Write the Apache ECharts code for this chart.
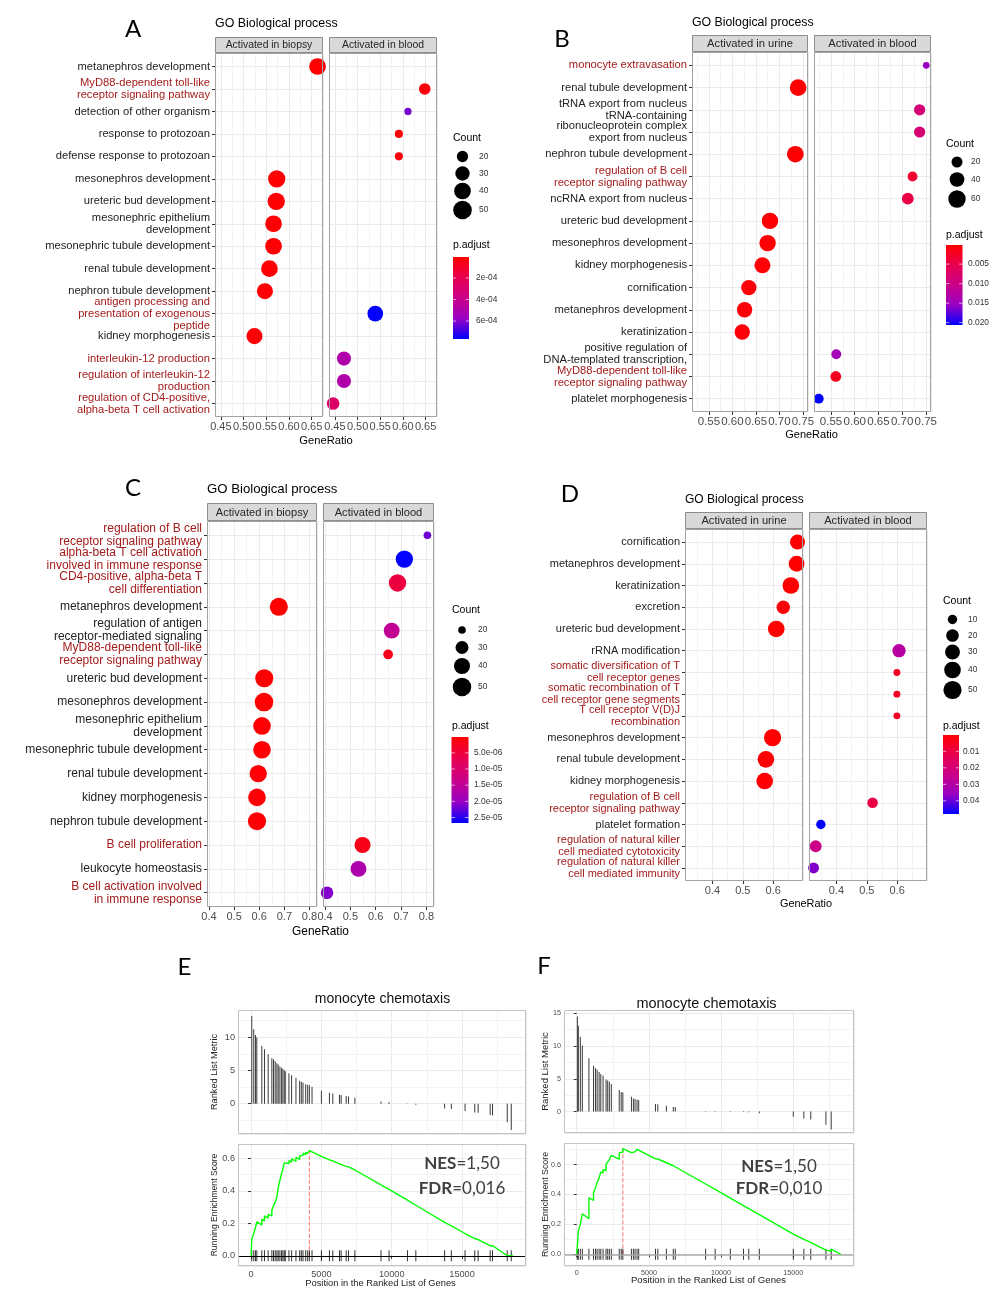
<!DOCTYPE html>
<html><head><meta charset="utf-8">
<script src="https://cdn.jsdelivr.net/npm/echarts@6/dist/echarts.min.js"></script>
<style>html,body{margin:0;padding:0;background:#fff}#c{width:1000px;height:1296px}</style>
</head><body><div id="c"></div>
<script>
// ===================== DATA =====================
// ---- Panel A ----
const catA = ['metanephros development','MyD88-dependent toll-like\nreceptor signaling pathway','detection of other organism','response to protozoan','defense response to protozoan','mesonephros development','ureteric bud development','mesonephric epithelium\ndevelopment','mesonephric tubule development','renal tubule development','nephron tubule development','antigen processing and\npresentation of exogenous\npeptide','kidney morphogenesis','interleukin-12 production','regulation of interleukin-12\nproduction','regulation of CD4-positive,\nalpha-beta T cell activation'];
const immuneA = [catA[1], catA[11], catA[13], catA[14], catA[15]];
const ratioA_biopsy = [0.663, null, null, null, null, 0.573, 0.572, 0.566, 0.566, 0.557, 0.547, null, 0.524, null, null, null];
const countA_biopsy = [40, null, null, null, null, 43, 43, 40, 40, 40, 37, null, 37, null, null, null];
const padjA_biopsy = [1.0e-5, null, null, null, null, 1.1e-5, 1.1e-5, 1.2e-5, 1.2e-5, 1.3e-5, 1.5e-5, null, 2.0e-5, null, null, null];
const ratioA_blood = [null, 0.648, 0.611, 0.591, 0.591, null, null, null, null, null, null, 0.539, null, 0.470, 0.470, 0.446];
const countA_blood = [null, 21, 13, 14, 14, null, null, null, null, null, null, 35, null, 29, 29, 24];
const padjA_blood = [null, 3.0e-5, 6.2e-4, 2.5e-5, 2.5e-5, null, null, null, null, null, null, 7.65e-4, null, 4.9e-4, 4.9e-4, 2.7e-4];
const xRangeA = [0.437, 0.675];
const padjRangeA = [4.7e-6, 7.67e-4];
const padjBreaksA = [2e-4, 4e-4, 6e-4];
const padjLabelsA = ['2e-04', '4e-04', '6e-04'];
const countBreaksA = [20, 30, 40, 50];

// ---- Panel B ----
const catB = ['monocyte extravasation','renal tubule development','tRNA export from nucleus\ntRNA-containing','ribonucleoprotein complex\nexport from nucleus','nephron tubule development','regulation of B cell\nreceptor signaling pathway','ncRNA export from nucleus','ureteric bud development','mesonephros development','kidney morphogenesis','cornification','metanephros development','keratinization','positive regulation of\nDNA-templated transcription,','MyD88-dependent toll-like\nreceptor signaling pathway','platelet morphogenesis'];
const immuneB = [catB[0], catB[5], catB[14]];
const ratioB_urine = [null, 0.740, null, null, 0.734, null, null, 0.680, 0.675, 0.664, 0.635, 0.626, 0.621, null, null, null];
const countB_urine = [null, 54, null, null, 54, null, null, 52, 52, 49, 44, 44, 44, null, null, null];
const padjB_urine = [null, 2e-4, null, null, 2e-4, null, null, 3e-4, 3e-4, 4e-4, 6e-4, 6e-4, 7e-4, null, null, null];
const ratioB_blood = [0.751, null, 0.737, 0.737, null, 0.722, 0.712, null, null, null, null, null, null, 0.561, 0.560, 0.524];
const countB_blood = [9, null, 21, 21, null, 16, 24, null, null, null, null, null, null, 16, 19, 16];
const padjB_blood = [0.0155, null, 0.0085, 0.0085, null, 0.0032, 0.0046, null, null, null, null, null, null, 0.0144, 0.0021, 0.0206];
const xRangeB = [0.514, 0.761];
const padjRangeB = [1e-4, 0.0206];
const padjBreaksB = [0.005, 0.010, 0.015, 0.020];
const padjLabelsB = ['0.005', '0.010', '0.015', '0.020'];
const countBreaksB = [20, 40, 60];

// ---- Panel C ----
const catC = ['regulation of B cell\nreceptor signaling pathway','alpha-beta T cell activation\ninvolved in immune response','CD4-positive, alpha-beta T\ncell differentiation','metanephros development','regulation of antigen\nreceptor-mediated signaling','MyD88-dependent toll-like\nreceptor signaling pathway','ureteric bud development','mesonephros development','mesonephric epithelium\ndevelopment','mesonephric tubule development','renal tubule development','kidney morphogenesis','nephron tubule development','B cell proliferation','leukocyte homeostasis','B cell activation involved\nin immune response'];
const immuneC = [catC[0], catC[1], catC[2], catC[5], catC[13], catC[15]];
const ratioC_biopsy = [null, null, null, 0.678, null, null, 0.620, 0.619, 0.611, 0.611, 0.596, 0.591, 0.591, null, null, null];
const countC_biopsy = [null, null, null, 48, null, null, 48, 50, 46, 46, 45, 46, 48, null, null, null];
const padjC_biopsy = [null, null, null, 2e-7, null, null, 3e-7, 3e-7, 4e-7, 4e-7, 5e-7, 6e-7, 6e-7, null, null, null];
const ratioC_blood = [0.804, 0.713, 0.686, null, 0.663, 0.649, null, null, null, null, null, null, null, 0.548, 0.532, 0.408];
const countC_blood = [20, 45, 45, null, 39, 23, null, null, null, null, null, null, null, 40, 39, 29];
const padjC_blood = [2.2e-5, 2.66e-5, 5.4e-6, null, 1.45e-5, 2.5e-6, null, null, null, null, null, null, null, 2.0e-6, 1.74e-5, 2.1e-5];
const xRangeC = [0.392, 0.83];
const padjRangeC = [1e-7, 2.67e-5];
const padjBreaksC = [5e-6, 1e-5, 1.5e-5, 2e-5, 2.5e-5];
const padjLabelsC = ['5.0e-06', '1.0e-05', '1.5e-05', '2.0e-05', '2.5e-05'];
const countBreaksC = [20, 30, 40, 50];

// ---- Panel D ----
const catD = ['cornification','metanephros development','keratinization','excretion','ureteric bud development','rRNA modification','somatic diversification of T\ncell receptor genes','somatic recombination of T\ncell receptor gene segments','T cell receptor V(D)J\nrecombination','mesonephros development','renal tubule development','kidney morphogenesis','regulation of B cell\nreceptor signaling pathway','platelet formation','regulation of natural killer\ncell mediated cytotoxicity','regulation of natural killer\ncell mediated immunity'];
const immuneD = [catD[6], catD[7], catD[8], catD[12], catD[14], catD[15]];
const ratioD_urine = [0.680, 0.677, 0.658, 0.633, 0.610, null, null, null, null, 0.598, 0.576, 0.572, null, null, null, null];
const countD_urine = [31, 35, 40, 23, 40, null, null, null, null, 44, 40, 40, null, null, null, null];
const padjD_urine = [3e-4, 3e-4, 2e-4, 8e-4, 3e-4, null, null, null, null, 4e-4, 5e-4, 5e-4, null, null, null, null];
const ratioD_blood = [null, null, null, null, null, 0.606, 0.599, 0.599, 0.599, null, null, null, 0.519, 0.349, 0.332, 0.325];
const countD_blood = [null, null, null, null, null, 23, 6, 6, 6, null, null, null, 13, 10, 17, 14];
const padjD_blood = [null, null, null, null, null, 0.029, 0.006, 0.006, 0.006, null, null, null, 0.0106, 0.048, 0.024, 0.038];
const xRangeD = [0.31, 0.698];
const padjRangeD = [1e-4, 0.048];
const padjBreaksD = [0.01, 0.02, 0.03, 0.04];
const padjLabelsD = ['0.01', '0.02', '0.03', '0.04'];
const countBreaksD = [10, 20, 30, 40, 50];

// ---- Panel E (GSEA) ----
const hitsE = [48, 190, 310, 405, 762, 952, 1214, 1476, 1595, 1714, 1833, 1929, 2048, 2167, 2262, 2357, 2429, 2690, 2881, 3190, 3452, 3571, 3690, 3881, 4024, 4143, 4333, 5000, 5571, 5810, 6286, 6405, 6762, 6929, 7381, 9238, 9810, 11119, 11714, 13762, 14238, 15214, 15905, 16143, 17000, 17167, 18214, 18500];
const metricE = [13.2, 11.2, 10.35, 9.95, 8.7, 8.2, 7.45, 6.85, 6.7, 6.4, 6.1, 5.9, 5.6, 5.4, 5.25, 5.05, 4.9, 4.6, 4.3, 3.9, 3.45, 3.3, 3.2, 2.95, 2.85, 2.8, 2.55, 1.95, 1.65, 1.55, 1.35, 1.3, 1.15, 1.1, 0.9, 0.35, 0.25, -0.05, -0.15, -0.7, -0.8, -1.1, -1.3, -1.35, -1.7, -1.75, -2.8, -3.95];
const esE = [[0,0],[48,0],[48,0.102],[190,0.097],[190,0.137],[310,0.132],[310,0.172],[405,0.168],[405,0.208],[762,0.19],[762,0.224],[952,0.215],[952,0.245],[1214,0.232],[1214,0.255],[1476,0.245],[1476,0.28],[1595,0.275],[1595,0.31],[1714,0.305],[1714,0.33],[1833,0.325],[1833,0.36],[1929,0.356],[1929,0.42],[2048,0.415],[2048,0.465],[2167,0.46],[2167,0.505],[2262,0.50],[2262,0.535],[2357,0.53],[2357,0.572],[2429,0.568],[2429,0.58],[2690,0.568],[2690,0.585],[2881,0.576],[2881,0.596],[3190,0.582],[3190,0.606],[3452,0.594],[3452,0.614],[3571,0.608],[3571,0.624],[3690,0.618],[3690,0.632],[3881,0.622],[3881,0.636],[4024,0.63],[4024,0.64],[4143,0.635],[4143,0.648],[4333,0.640],[4333,0.644],[5000,0.612],[5000,0.618],[5571,0.590],[5571,0.596],[5810,0.584],[5810,0.589],[6286,0.565],[6286,0.57],[6405,0.564],[6405,0.568],[6762,0.55],[6762,0.555],[6929,0.547],[6929,0.551],[7381,0.528],[7381,0.532],[9238,0.436],[9238,0.438],[9810,0.409],[9810,0.41],[11119,0.342],[11714,0.311],[13762,0.206],[13762,0.209],[14238,0.184],[14238,0.188],[15214,0.137],[15214,0.142],[15905,0.106],[15905,0.112],[16143,0.1],[16143,0.106],[17000,0.062],[17000,0.07],[17167,0.062],[17167,0.071],[18214,0.0],[18214,0.012],[18500,0.0],[18500,0.006],[18617,0]];
const peakE = [4143, 0.648];
const statsE = ['1,50', '0,016'];

// ---- Panel F (GSEA) ----
const hitsF = [46, 114, 251, 388, 845, 1164, 1301, 1415, 1552, 1667, 1826, 2032, 2146, 2260, 2397, 2945, 3082, 3196, 3790, 3927, 4041, 4178, 4292, 5456, 5616, 6210, 6689, 6826, 8926, 9589, 10639, 11552, 11917, 12648, 15000, 15730, 16209, 17259, 17625];
const metricF = [14.5, 13.1, 11.4, 10.1, 8.15, 7.0, 6.65, 6.4, 6.05, 5.75, 5.5, 4.9, 4.75, 4.55, 4.2, 3.3, 3.0, 2.9, 2.25, 2.0, 1.9, 1.8, 1.75, 1.15, 1.1, 0.9, 0.7, 0.7, 0.1, 0.1, -0.05, -0.05, -0.1, -0.25, -0.8, -1.05, -1.2, -2.0, -2.75];
const esF = [[0,0],[46,0],[46,0.056],[114,0.052],[114,0.156],[251,0.15],[251,0.2],[388,0.194],[388,0.271],[845,0.238],[845,0.378],[1164,0.36],[1164,0.411],[1301,0.405],[1301,0.444],[1415,0.44],[1415,0.478],[1552,0.472],[1552,0.511],[1667,0.506],[1667,0.551],[1826,0.543],[1826,0.567],[2032,0.558],[2032,0.6],[2146,0.595],[2146,0.618],[2260,0.613],[2260,0.633],[2397,0.627],[2397,0.662],[2945,0.636],[2945,0.678],[3082,0.672],[3082,0.689],[3196,0.684],[3196,0.707],[3790,0.68],[3790,0.686],[3927,0.68],[3927,0.69],[4041,0.685],[4041,0.695],[4178,0.69],[4178,0.702],[4292,0.697],[4292,0.700],[5456,0.638],[5456,0.645],[5616,0.637],[5616,0.642],[6210,0.612],[6210,0.617],[6689,0.592],[6689,0.598],[6826,0.59],[6826,0.594],[8926,0.47],[8926,0.471],[9589,0.434],[9589,0.435],[10639,0.376],[11552,0.325],[11917,0.305],[11917,0.306],[12648,0.265],[12648,0.268],[15000,0.135],[15000,0.14],[15730,0.1],[15730,0.106],[16209,0.08],[16209,0.086],[17259,0.028],[17259,0.04],[17625,0.02],[17625,0.035],[18300,0]];
const peakF = [3196, 0.707];
const statsF = ['1,50', '0,010'];

// ===================== STYLE / LAYOUT =====================
const FONT = '"Liberation Sans", Arial, Helvetica, sans-serif';
const LFONT = 'Lato, "Open Sans", sans-serif';
const RED_LABEL = '#a31b1b';
const DARK = '#1f1f1f';
const TICKTXT = '#4d4d4d';
const GMAJ = '#ebebeb';
const GMIN = '#f3f3f3';
const PADJ_COLORS = ['#ff0000', '#e80050', '#ca0089', '#9a00c3', '#0000ff'];

const panels = [
  { letter:'A', cats:catA, immune:immuneA,
    facets:[{name:'Activated in biopsy', ratio:ratioA_biopsy, count:countA_biopsy, padj:padjA_biopsy},
            {name:'Activated in blood', ratio:ratioA_blood, count:countA_blood, padj:padjA_blood}],
    xRange:xRangeA, xStep:0.05, xDec:2, padjRange:padjRangeA, padjBreaks:padjBreaksA, padjLabels:padjLabelsA, countBreaks:countBreaksA,
    L:{letter:[133,29], title:[215,24], titleFont:12.4, stripTop:37, stripH:16, cols:[[215,108],[329,108]], top:53, height:364,
       labelFont:11.2, lineHeight:12, stripFont:10.4, tickFont:11, gr:[326,441], grFont:11.2,
       countTitle:[453,138], countX:462.5, countYs:[156.5,173.5,191,210], countLabelX:479,
       cbTitle:[453,245], cb:[453,257,16,82], cbLabelX:476,
       size:{cmin:12, cmax:55, d0:5, d1:19.5}} },
  { letter:'B', cats:catB, immune:immuneB,
    facets:[{name:'Activated in urine', ratio:ratioB_urine, count:countB_urine, padj:padjB_urine},
            {name:'Activated in blood', ratio:ratioB_blood, count:countB_blood, padj:padjB_blood}],
    xRange:xRangeB, xStep:0.05, xDec:2, padjRange:padjRangeB, padjBreaks:padjBreaksB, padjLabels:padjLabelsB, countBreaks:countBreaksB,
    L:{letter:[562,39], title:[692,23], titleFont:12.3, stripTop:35, stripH:17, cols:[[692,116],[814,117]], top:52, height:360,
       labelFont:11.2, lineHeight:12, stripFont:11.2, tickFont:11.5, gr:[811.5,435], grFont:11,
       countTitle:[946,144], countX:957, countYs:[162,179.5,199], countLabelX:971,
       cbTitle:[946,235], cb:[946,245,16.5,80], cbLabelX:968,
       size:{cmin:8, cmax:65, d0:5, d1:18}} },
  { letter:'C', cats:catC, immune:immuneC,
    facets:[{name:'Activated in biopsy', ratio:ratioC_biopsy, count:countC_biopsy, padj:padjC_biopsy},
            {name:'Activated in blood', ratio:ratioC_blood, count:countC_blood, padj:padjC_blood}],
    xRange:xRangeC, xStep:0.1, xDec:1, padjRange:padjRangeC, padjBreaks:padjBreaksC, padjLabels:padjLabelsC, countBreaks:countBreaksC,
    L:{letter:[133,488], title:[207,489], titleFont:13.2, stripTop:503, stripH:18, cols:[[207,110],[323,111]], top:521, height:386,
       labelFont:12, lineHeight:13, stripFont:11.1, tickFont:11, gr:[320.5,932], grFont:11.9,
       countTitle:[452,610], countX:462, countYs:[630,647.5,666,687], countLabelX:478,
       cbTitle:[452,726], cb:[451.5,737,17,86], cbLabelX:474,
       size:{cmin:18, cmax:52, d0:4, d1:19}} },
  { letter:'D', cats:catD, immune:immuneD,
    facets:[{name:'Activated in urine', ratio:ratioD_urine, count:countD_urine, padj:padjD_urine},
            {name:'Activated in blood', ratio:ratioD_blood, count:countD_blood, padj:padjD_blood}],
    xRange:xRangeD, xStep:0.1, xDec:1, padjRange:padjRangeD, padjBreaks:padjBreaksD, padjLabels:padjLabelsD, countBreaks:countBreaksD,
    L:{letter:[570,494], title:[685,500], titleFont:12, stripTop:512, stripH:17, cols:[[685,118],[809,118]], top:529, height:352,
       labelFont:11, lineHeight:12, stripFont:11.1, tickFont:11, gr:[806,904], grFont:10.9,
       countTitle:[943,601.5], countX:952.5, countYs:[619.5,635.5,652,670,690], countLabelX:968,
       cbTitle:[943,726], cb:[943,735,16,79], cbLabelX:963,
       size:{cmin:5, cmax:52, d0:5, d1:18.5}} }
];

const gseas = [
  { letter:'E', hits:hitsE, metric:metricE, es:esE, peak:peakE, stats:statsE,
    L:{letter:[184.5,967], left:238, width:288, topY:1010, topH:124, botY:1144, botH:122,
       xRange:[-931, 19548], rankRange:[-4.55, 14.1], esRange:[-0.063, 0.688], tickFont:9.2,
       title:[382.5,999], titleFont:14, yTitleX:214.5, yTitleFonts:[9.2, 8.6], xTitle:[380.5,1283.5], xTitleFont:9.3,
       stat:[462,1164,1189], zeroColor:'#000', zeroWidth:1} },
  { letter:'F', hits:hitsF, metric:metricF, es:esF, peak:peakF, stats:statsF,
    L:{letter:[544,966], left:564, width:290, topY:1010, topH:123, botY:1143, botH:123,
       xRange:[-880, 19204], rankRange:[-3.27, 15.5], esRange:[-0.078, 0.744], tickFont:7.2,
       title:[706.5,1003.5], titleFont:14.5, yTitleX:545.5, yTitleFonts:[9.5, 8.8], xTitle:[708.5,1280.5], xTitleFont:9.6,
       stat:[779,1167,1189], zeroColor:'#a8a8a8', zeroWidth:1.6} }
];

// ===================== BUILD =====================
function sizeFn(c, p) { return p.d0 + (p.d1 - p.d0) * Math.sqrt(Math.max(0, (c - p.cmin) / (p.cmax - p.cmin))); }
function isMult(v, step) { const r = v / step; return Math.abs(r - Math.round(r)) < 1e-6; }

const grid = [], xAxis = [], yAxis = [], series = [], visualMap = [], graphic = [];
function addGrid(g) { grid.push(Object.assign({show:false, containLabel:false}, g)); return grid.length - 1; }
function txt(x, y, text, size, o) {
  o = o || {};
  const st = Object.assign({text:text, fontSize:size, fontFamily:FONT, fill:DARK, align:'left', textAlign:'left', verticalAlign:'middle', textVerticalAlign:'middle'}, o.style || {});
  return Object.assign({type:'text', x:x, y:y, z:100, silent:true, style:st}, o.el || {});
}
function rectEl(x, y, w, h, style) { return {type:'rect', z:100, silent:true, shape:{x:x, y:y, width:w, height:h}, style:style}; }
function lineEl(x1, y1, x2, y2, style) { return {type:'line', z:101, silent:true, shape:{x1:x1, y1:y1, x2:x2, y2:y2}, style:style}; }

panels.forEach(P => {
  const L = P.L, n = P.cats.length, u = L.height / (n + 0.2);
  const sIdx = [];
  P.facets.forEach((F, fi) => {
    const [left, width] = L.cols[fi];
    // background grid (full panel): x gridlines + x axis labels
    const gb = addGrid({left:left, top:L.top, width:width, height:L.height});
    xAxis.push({gridIndex:gb, type:'value', min:P.xRange[0], max:P.xRange[1], minInterval:P.xStep, maxInterval:P.xStep,
      axisLine:{show:false}, axisTick:{show:true, length:3, lineStyle:{color:'#333', width:1}},
      axisLabel:{show:true, showMinLabel:false, showMaxLabel:false, fontSize:L.tickFont, fontFamily:FONT, color:TICKTXT, margin:4,
        formatter: v => isMult(v, P.xStep) ? v.toFixed(P.xDec) : ''},
      splitLine:{show:true, lineStyle:{color:GMAJ, width:1}},
      minorTick:{show:false, splitNumber:2}, minorSplitLine:{show:true, lineStyle:{color:GMIN, width:1}}});
    yAxis.push({gridIndex:gb, type:'value', min:0, max:1, show:false});
    // data grid (category centres)
    const gd = addGrid({left:left, top:L.top + 0.6 * u, width:width, height:(n - 1) * u});
    xAxis.push({gridIndex:gd, type:'value', min:P.xRange[0], max:P.xRange[1], show:false});
    yAxis.push({gridIndex:gd, type:'category', data:P.cats, inverse:true, boundaryGap:false,
      axisLine:{show:false},
      axisTick:{show:fi === 0, length:3, interval:0, lineStyle:{color:'#333', width:1}},
      axisLabel:{show:fi === 0, interval:0, fontSize:L.labelFont, lineHeight:L.lineHeight, fontFamily:FONT, margin:5,
        color: (v) => P.immune.indexOf(v) >= 0 ? RED_LABEL : '#222'},
      splitLine:{show:true, interval:0, lineStyle:{color:GMAJ, width:1}}});
    const data = [];
    P.cats.forEach((c, i) => { if (F.ratio[i] != null) data.push([F.ratio[i], c, F.count[i], F.padj[i]]); });
    series.push({type:'scatter', xAxisIndex:xAxis.length - 1, yAxisIndex:yAxis.length - 1, data:data,
      symbolSize: v => sizeFn(v[2], L.size), clip:false, z:5, silent:true,
      itemStyle:{opacity:1, borderWidth:0}, emphasis:{disabled:true}});
    sIdx.push(series.length - 1);
    // panel border + strip
    graphic.push(rectEl(left + 0.5, L.top + 0.5, width - 1, L.height - 1, {fill:'none', stroke:'#a3a3a3', lineWidth:1}));
    graphic.push(rectEl(left + 0.5, L.stripTop + 0.5, width - 1, L.stripH - 1, {fill:'#d9d9d9', stroke:'#8c8c8c', lineWidth:1}));
    graphic.push(txt(left + width / 2, L.stripTop + L.stripH / 2 + 0.5, F.name, L.stripFont, {style:{align:'center', textAlign:'center', fill:'#262626'}}));
  });
  visualMap.push({type:'continuous', show:false, dimension:3, seriesIndex:sIdx, min:P.padjRange[0], max:P.padjRange[1], inRange:{color:PADJ_COLORS}});
  // texts
  graphic.push(txt(L.letter[0], L.letter[1], P.letter, 24, {style:{fontFamily:LFONT, align:'center', textAlign:'center', fill:'#000'}}));
  graphic.push(txt(L.title[0], L.title[1], 'GO Biological process', L.titleFont, {style:{fill:'#000'}}));
  graphic.push(txt(L.gr[0], L.gr[1], 'GeneRatio', L.grFont, {style:{align:'center', textAlign:'center', fill:'#000'}}));
  // Count legend
  graphic.push(txt(L.countTitle[0], L.countTitle[1], 'Count', 10.5, {style:{fill:'#000'}}));
  P.countBreaks.forEach((c, i) => {
    graphic.push({type:'circle', z:100, silent:true, shape:{cx:L.countX, cy:L.countYs[i], r:sizeFn(c, L.size) / 2}, style:{fill:'#000'}});
    graphic.push(txt(L.countLabelX, L.countYs[i], String(c), 8.4, {style:{fill:'#333'}}));
  });
  // p.adjust colour bar
  const [bx, by, bw, bh] = L.cb;
  graphic.push(txt(L.cbTitle[0], L.cbTitle[1], 'p.adjust', 10.5, {style:{fill:'#000'}}));
  graphic.push(rectEl(bx, by, bw, bh, {fill:{type:'linear', x:0, y:0, x2:0, y2:1,
    colorStops:PADJ_COLORS.map((c, i) => ({offset:i / (PADJ_COLORS.length - 1), color:c}))}}));
  P.padjBreaks.forEach((t, i) => {
    const y = by + (t - P.padjRange[0]) / (P.padjRange[1] - P.padjRange[0]) * bh;
    graphic.push(lineEl(bx, y, bx + bw * 0.2, y, {stroke:'#fff', lineWidth:0.8, opacity:0.8}));
    graphic.push(lineEl(bx + bw * 0.8, y, bx + bw, y, {stroke:'#fff', lineWidth:0.8, opacity:0.8}));
    graphic.push(txt(L.cbLabelX, y, P.padjLabels[i], 8.4, {style:{fill:'#333'}}));
  });
});

gseas.forEach(G => {
  const L = G.L;
  const commonX = {type:'value', min:L.xRange[0], max:L.xRange[1], minInterval:5000, maxInterval:5000,
    axisLine:{show:false}, splitLine:{show:true, lineStyle:{color:GMAJ, width:1}},
    minorTick:{show:false, splitNumber:2}, minorSplitLine:{show:true, lineStyle:{color:GMIN, width:1}}};
  // top: ranked list metric
  const gt = addGrid({left:L.left, top:L.topY, width:L.width, height:L.topH});
  xAxis.push(Object.assign({gridIndex:gt, axisTick:{show:false}, axisLabel:{show:false}}, commonX));
  yAxis.push({gridIndex:gt, type:'value', min:L.rankRange[0], max:L.rankRange[1], minInterval:5, maxInterval:5,
    axisLine:{show:false}, axisTick:{show:true, length:3, lineStyle:{color:'#333'}},
    axisLabel:{showMinLabel:false, showMaxLabel:false, fontSize:L.tickFont, fontFamily:FONT, color:TICKTXT, margin:3,
      formatter: v => isMult(v, 5) ? String(Math.round(v)) : ''},
    splitLine:{show:true, lineStyle:{color:GMAJ, width:1}},
    minorTick:{show:false, splitNumber:2}, minorSplitLine:{show:true, lineStyle:{color:GMIN, width:1}}});
  series.push({type:'bar', xAxisIndex:xAxis.length - 1, yAxisIndex:yAxis.length - 1,
    data:G.hits.map((p, i) => [p, G.metric[i]]), barWidth:1, silent:true, itemStyle:{color:'#3a3a3a'}});
  // bottom: running enrichment score
  const gbm = addGrid({left:L.left, top:L.botY, width:L.width, height:L.botH});
  xAxis.push(Object.assign({gridIndex:gbm, axisTick:{show:true, length:3, lineStyle:{color:'#333'}},
    axisLabel:{show:true, showMinLabel:false, showMaxLabel:false, fontSize:L.tickFont, fontFamily:FONT, color:TICKTXT, margin:4,
      formatter: v => isMult(v, 5000) ? String(Math.round(v)) : ''}}, commonX));
  yAxis.push({gridIndex:gbm, type:'value', min:L.esRange[0], max:L.esRange[1], minInterval:0.2, maxInterval:0.2,
    axisLine:{show:false}, axisTick:{show:true, length:3, lineStyle:{color:'#333'}},
    axisLabel:{showMinLabel:false, showMaxLabel:false, fontSize:L.tickFont, fontFamily:FONT, color:TICKTXT, margin:3,
      formatter: v => isMult(v, 0.2) ? v.toFixed(1) : ''},
    splitLine:{show:true, lineStyle:{color:GMAJ, width:1}},
    minorTick:{show:false, splitNumber:2}, minorSplitLine:{show:true, lineStyle:{color:GMIN, width:1}}});
  const xi = xAxis.length - 1, yi = yAxis.length - 1;
  series.push({type:'scatter', xAxisIndex:xi, yAxisIndex:yi, data:G.hits.map(p => [p, 0]), symbol:'rect',
    symbolSize:[1, 11], silent:true, itemStyle:{color:'#000'}, z:3});
  series.push({type:'line', xAxisIndex:xi, yAxisIndex:yi, data:[[G.peak[0], 0], [G.peak[0], G.peak[1]]], showSymbol:false,
    silent:true, lineStyle:{color:'#ff6e6e', type:'dashed', width:1}, z:2});
  series.push({type:'line', xAxisIndex:xi, yAxisIndex:yi, data:G.es, showSymbol:false, silent:true, z:4,
    lineStyle:{color:'#00ff00', width:1.4},
    markLine:{silent:true, symbol:['none', 'none'], label:{show:false}, animation:false,
      lineStyle:{color:L.zeroColor, width:L.zeroWidth, type:'solid'}, data:[{yAxis:0}]}});
  // borders
  graphic.push(rectEl(L.left + 0.5, L.topY + 0.5, L.width - 1, L.topH - 1, {fill:'none', stroke:'#c4c4c4', lineWidth:1}));
  graphic.push(rectEl(L.left + 0.5, L.botY + 0.5, L.width - 1, L.botH - 1, {fill:'none', stroke:'#c4c4c4', lineWidth:1}));
  // texts
  graphic.push(txt(L.letter[0], L.letter[1], G.letter, 24, {style:{fontFamily:LFONT, align:'center', textAlign:'center', fill:'#000'}}));
  graphic.push(txt(L.title[0], L.title[1], 'monocyte chemotaxis', L.titleFont, {style:{align:'center', textAlign:'center', fill:'#111'}}));
  graphic.push(txt(L.yTitleX, L.topY + L.topH / 2, 'Ranked List Metric', L.yTitleFonts[0], {style:{align:'center', textAlign:'center', fill:'#222'}, el:{rotation:Math.PI / 2}}));
  graphic.push(txt(L.yTitleX, L.botY + L.botH / 2, 'Running Enrichment Score', L.yTitleFonts[1], {style:{align:'center', textAlign:'center', fill:'#222'}, el:{rotation:Math.PI / 2}}));
  graphic.push(txt(L.xTitle[0], L.xTitle[1], 'Position in the Ranked List of Genes', L.xTitleFont, {style:{align:'center', textAlign:'center', fill:'#222'}}));
  const rich = {b:{fontWeight:'bold', fontSize:17, fontFamily:LFONT, fill:'#404040', color:'#404040'},
                n:{fontSize:17, fontFamily:LFONT, fill:'#404040', color:'#404040'}};
  graphic.push(txt(L.stat[0], L.stat[1], '{b|NES}{n|=' + G.stats[0] + '}', 17, {style:{align:'center', textAlign:'center', rich:rich}}));
  graphic.push(txt(L.stat[0], L.stat[2], '{b|FDR}{n|=' + G.stats[1] + '}', 17, {style:{align:'center', textAlign:'center', rich:rich}}));
});

const chart = echarts.init(document.getElementById('c'), null, {renderer:'canvas'});
chart.setOption({
  animation:false,
  backgroundColor:'#ffffff',
  textStyle:{fontFamily:FONT},
  grid:grid, xAxis:xAxis, yAxis:yAxis, series:series, visualMap:visualMap,
  graphic:{elements:graphic}
});
</script>
</body></html>
